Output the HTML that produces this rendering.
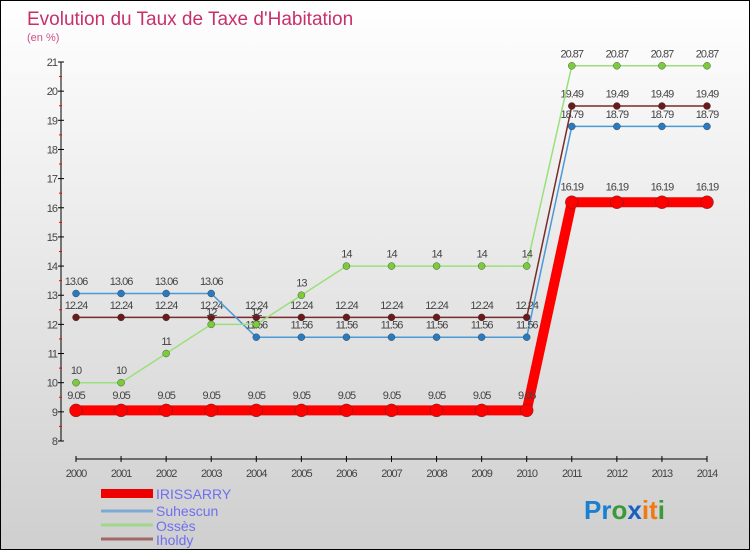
<!DOCTYPE html>
<html><head><meta charset="utf-8"><style>
body{margin:0}
#c{width:748px;height:548px;border:1px solid #000;background:linear-gradient(#fff,#cfcfcf);position:relative;font-family:"Liberation Sans",sans-serif;overflow:hidden}
</style></head><body>
<div id="c">
<svg id="s" width="748" height="548" style="position:absolute;left:0;top:0" font-family="Liberation Sans, sans-serif">
<text x="26" y="24" font-size="19" fill="#c8306a">Evolution du Taux de Taxe d'Habitation</text>
<text x="26" y="40" font-size="11" fill="#d0508a">(en %)</text>
<g id="axes"></g><g id="series"></g>
<g>
<rect x="100" y="488" width="52" height="9" fill="#e00"/>
<text x="155" y="498" font-size="14" fill="#6f6fef">IRISSARRY</text>
<line x1="100" y1="510" x2="152" y2="510" stroke="#7fa9d0" stroke-width="3"/>
<text x="155" y="515" font-size="14" fill="#6f6fef">Suhescun</text>
<line x1="100" y1="524" x2="152" y2="524" stroke="#9fd88a" stroke-width="3"/>
<text x="155" y="530" font-size="14" fill="#6f6fef">Ossès</text>
<line x1="100" y1="538" x2="152" y2="538" stroke="#a06868" stroke-width="3"/>
<text x="155" y="544" font-size="14" fill="#6f6fef">Iholdy</text>
</g>
<text x="583" y="518" font-size="26" font-weight="bold"><tspan fill="#1a7fd0">Pr</tspan><tspan fill="#3a9a3a">o</tspan><tspan fill="#1a60c0">x</tspan><tspan fill="#f07a10">it</tspan><tspan fill="#3a9a3a">i</tspan></text>
</svg>
</div>
<script>
const years=[2000,2001,2002,2003,2004,2005,2006,2007,2008,2009,2010,2011,2012,2013,2014];
const irissarry=[9.05,9.05,9.05,9.05,9.05,9.05,9.05,9.05,9.05,9.05,9.05,16.19,16.19,16.19,16.19];
const suhescun=[13.06,13.06,13.06,13.06,11.56,11.56,11.56,11.56,11.56,11.56,11.56,18.79,18.79,18.79,18.79];
const osses=[10,10,11,12,12,13,14,14,14,14,14,20.87,20.87,20.87,20.87];
const iholdy=[12.24,12.24,12.24,12.24,12.24,12.24,12.24,12.24,12.24,12.24,12.24,19.49,19.49,19.49,19.49];
const yTicks=[8,9,10,11,12,13,14,15,16,17,18,19,20,21];
const NS="http://www.w3.org/2000/svg";
const xS=i=>75+i*(706-75)/14;
const yS=v=>440-(v-8)*(440-61)/13;
function mk(t,a,p){const e=document.createElementNS(NS,t);for(const k in a)e.setAttribute(k,a[k]);p.appendChild(e);return e;}
const ax=document.getElementById('axes');
const yl=mk('line',{x1:60,y1:61,x2:60,y2:440,stroke:'#000'},ax);


yTicks.forEach(v=>{
 mk('line',{x1:57,y1:yS(v),x2:63,y2:yS(v),stroke:'#000'},ax);
 if(v<21)mk('line',{x1:58,y1:yS(v+0.5),x2:61,y2:yS(v+0.5),stroke:'#f00'},ax);
 const t=mk('text',{x:56,y:yS(v)+4,'font-size':11,fill:'#444','text-anchor':'end','letter-spacing':'-1'},ax);t.textContent=v;
 
 
});
const xl=mk('line',{x1:75,y1:458,x2:706,y2:458,stroke:'#000'},ax);


years.forEach((y,i)=>{
 mk('line',{x1:xS(i),y1:455,x2:xS(i),y2:461,stroke:'#000'},ax);
 const t=mk('text',{x:xS(i),y:476,'font-size':11,fill:'#444','text-anchor':'middle','letter-spacing':'-1'},ax);t.textContent=y;
 
 
});
const sg=document.getElementById('series');
function draw(vals,name,col,mcol,w,r){
 const g=mk('g',{},sg);
 
 
 const pl=mk('polyline',{points:vals.map((v,i)=>xS(i)+','+yS(v)).join(' '),fill:'none',stroke:col,'stroke-width':w},g);
 
 
 vals.forEach((v,i)=>{
  const c=mk('circle',{cx:xS(i),cy:yS(v),r:r,fill:mcol,stroke:'#333','stroke-width':0.4},g);
  
  
  const t=mk('text',{x:xS(i),y:yS(v)-(r+5),'font-size':11,fill:'#444','text-anchor':'middle','letter-spacing':'-1'},g);t.textContent=v;
  
  
 });
}
draw(iholdy,'iholdy','#7a2a2a','#6a1a1a',1.5,3.5);
draw(suhescun,'suhescun','#4a9ad8','#2a7ac0',1.5,3.5);
draw(osses,'osses','#9ae07a','#7acc3a',1.5,3.5);
draw(irissarry,'irissarry','#f00','#f00',10,6.5);
</script>
</body></html>
